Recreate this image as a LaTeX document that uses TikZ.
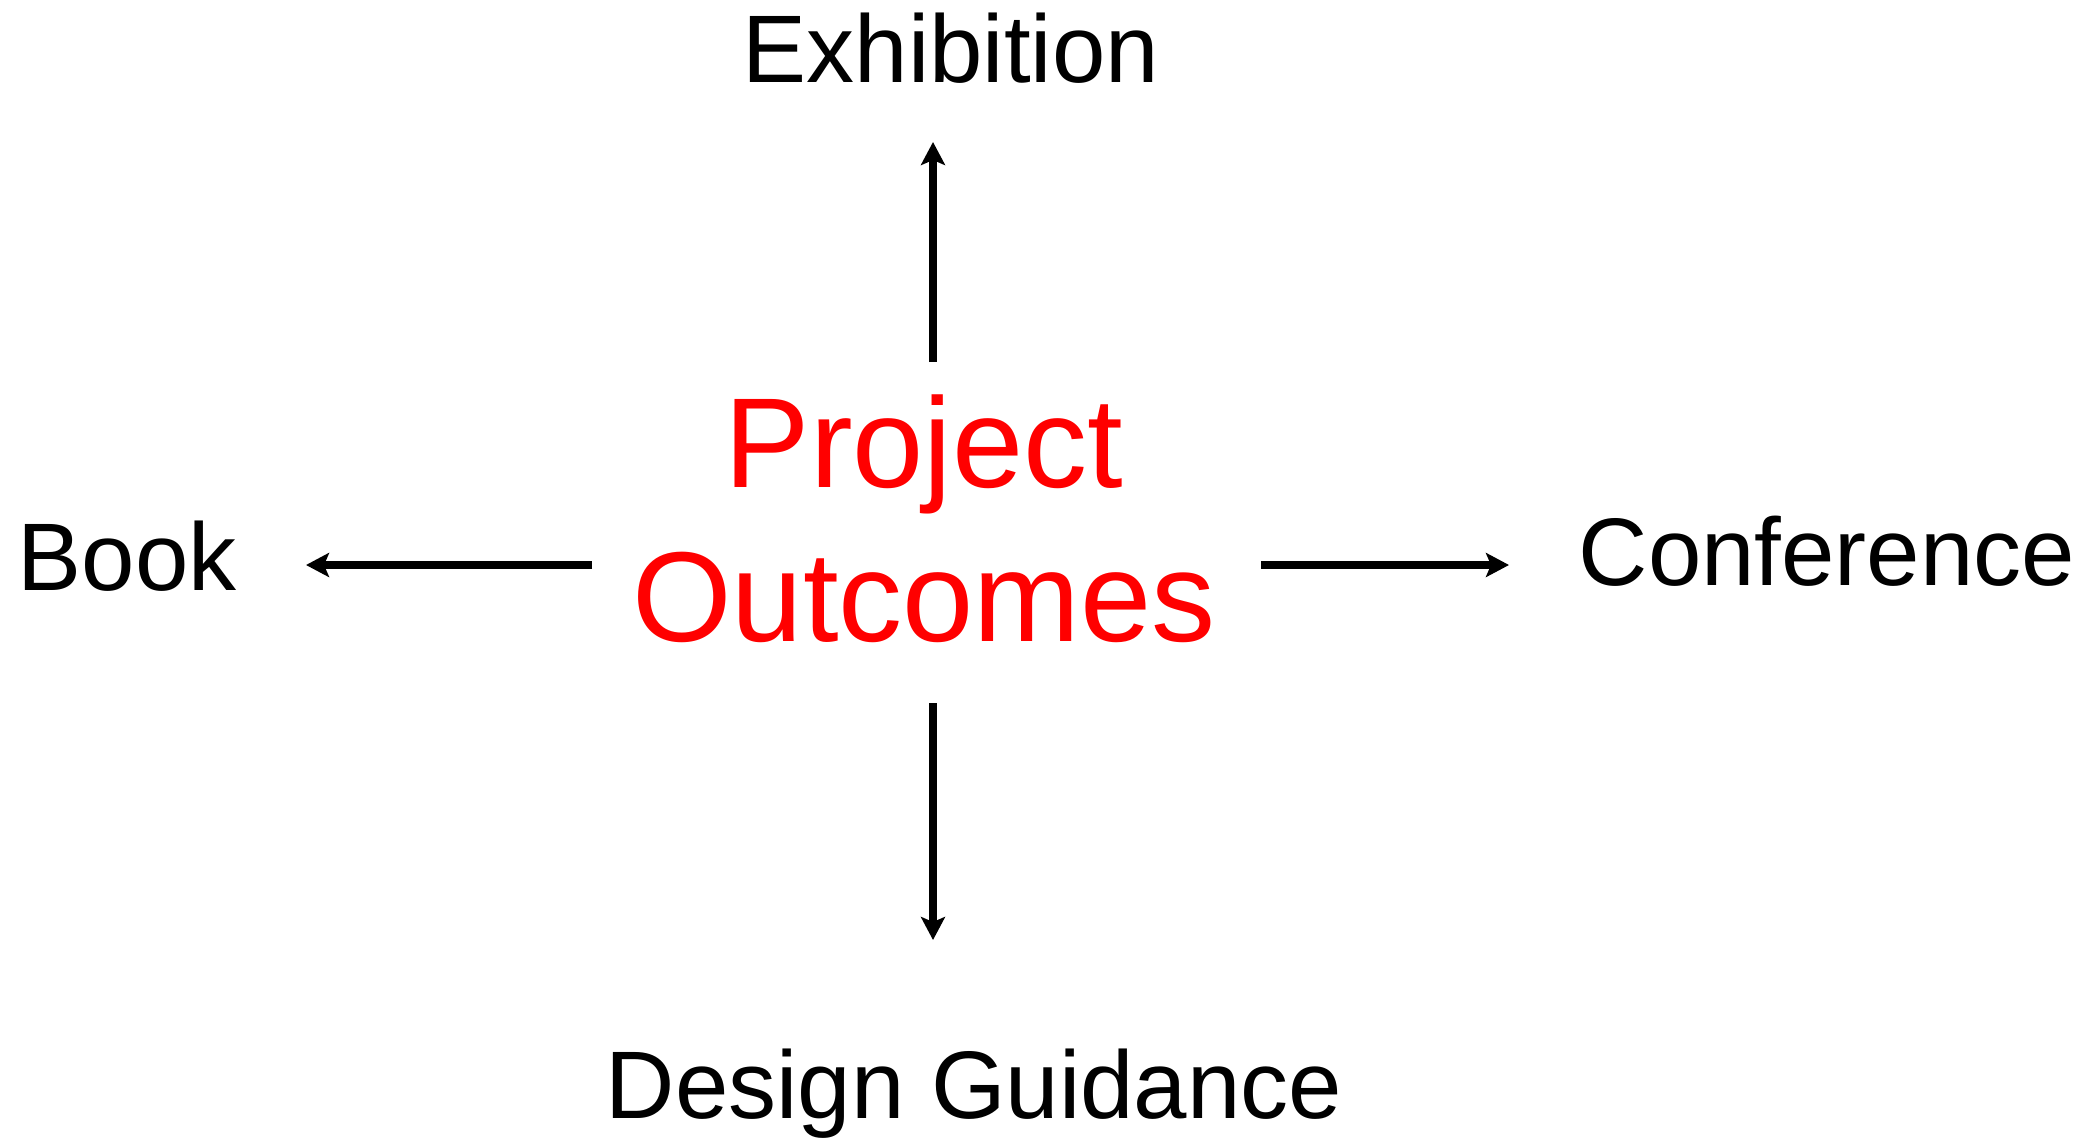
\documentclass[tikz,border=0pt]{standalone}
\usepackage{fontspec}
\setmainfont{Liberation Sans}
\usetikzlibrary{arrows.meta}
\begin{document}
\begin{tikzpicture}[x=1pt,y=-1pt,
  lbl/.style={inner sep=0pt,anchor=base,font=\fontsize{96}{116}\selectfont,text=black},
  ctr/.style={inner sep=0pt,anchor=base,align=center,font=\fontsize{128}{154}\selectfont,text=red},
  arr/.style={line width=7.5pt,-{Stealth[length=23pt,width=24pt,inset=5pt]}}]
\useasboundingbox (0,0) rectangle (2085,1140);
\node[ctr] (po) at (924,641) {Project\\Outcomes};
\node[lbl] (exh) at (951,82) {Exhibition};
\node[lbl] (book) at (127,590) {Book};
\node[lbl] (conf) at (1827,585) {Conference};
\node[lbl] (dg) at (974,1118) {Design Guidance};
\coordinate (upS) at (933,362);
\coordinate (upE) at (933,142);
\coordinate (lfS) at (592,565);
\coordinate (lfE) at (306,565);
\coordinate (rtS) at (1261,565);
\coordinate (rtE) at (1509,565);
\coordinate (dnS) at (933,703);
\coordinate (dnE) at (933,940);
\draw[arr] (upS) -- (upE);
\draw[arr] (lfS) -- (lfE);
\draw[arr] (rtS) -- (rtE);
\draw[arr] (dnS) -- (dnE);
\end{tikzpicture}
\end{document}
